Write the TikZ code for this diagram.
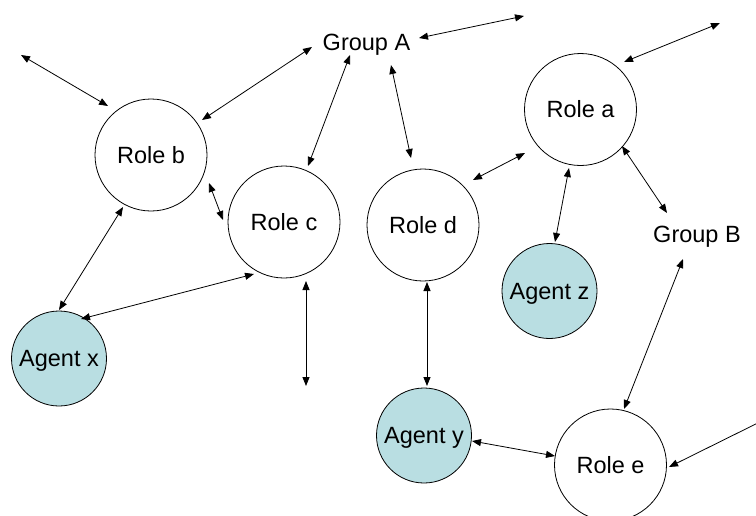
\documentclass[tikz,border=0pt]{standalone}
\usepackage{fontspec}
\setmainfont{Liberation Sans}
\usetikzlibrary{arrows.meta,calc}
\definecolor{agentfill}{RGB}{185,222,226}
\begin{document}
\begin{tikzpicture}[x=1pt,y=-1pt,
  every node/.style={font=\fontsize{23.5}{28}\selectfont},
  role/.style={circle,draw,line width=0.8pt,minimum size=112pt,inner sep=0pt,
               text height=16.8pt,text depth=0pt},
  agent/.style={role,fill=agentfill,minimum size=95pt},
  grp/.style={inner sep=0pt,anchor=base},
  link/.style={{Triangle[length=9pt,width=7pt]}-{Triangle[length=9pt,width=7pt]},
               line width=0.8pt}]
\useasboundingbox (0,0) rectangle (756,515);
\clip (0,0) rectangle (756,515);

% roles and agents
\node[role]  (rb) at (151,155)     {Role b};
\node[role]  (rc) at (284,222)     {Role c};
\node[role]  (rd) at (423,225)     {Role d};
\node[role]  (ra) at (580.5,109.5) {Role a};
\node[role]  (re) at (610.5,465)   {Role e};
\node[agent] (az) at (549.5,291)   {Agent z};
\node[agent] (ax) at (59,358.5)    {Agent x};
\node[agent] (ay) at (424,435.5)   {Agent y};

% groups
\node[grp] (ga) at (366.5,50.5) {Group A};
\node[grp] (gb) at (697,242.5)  {Group B};

% loose ends
\coordinate (f1) at (21,55);
\coordinate (f2) at (524,16);
\coordinate (f3) at (720,23);
\coordinate (f4) at (306,281);
\coordinate (f5) at (306,386);
\coordinate (f6) at (780,412);

% links
\draw[link] (f1) -- ($(rb)+(-43,-49)$);
\draw[link] ($(ga.base)+(-54.5,-3.5)$) -- ($(rb)+(51,-35)$);
\draw[link] ($(ga.base)+(-16.5,4.5)$) -- ($(rc)+(24,-56)$);
\draw[link] ($(ga.base)+(24.5,14.5)$) -- ($(rd)+(-12,-67)$);
\draw[link] ($(ga.base)+(52.5,-12.5)$) -- (f2);
\draw[link] ($(ra)+(43.5,-47.5)$) -- (f3);
\draw[link] ($(rd)+(50,-45)$) -- ($(ra)+(-55.5,43.5)$);
\draw[link] ($(ra)+(41.5,36.5)$) -- ($(gb.base)+(-30,-29.5)$);
\draw[link] ($(ra)+(-11.5,58.5)$) -- ($(az)+(5.5,-49)$);
\draw[link] ($(rb)+(58,28)$) -- ($(rc)+(-61,-2)$);
\draw[link] ($(rb)+(-28,52)$) -- ($(ax)+(0,-48.5)$);
\draw[link] ($(rc)+(-30,52)$) -- ($(ax)+(22,-39.5)$);
\draw[link] (f4) -- (f5);
\draw[link] ($(rd)+(4,57)$) -- ($(ay)+(3,-49.5)$);
\draw[link] ($(gb.base)+(-14,16.5)$) -- ($(re)+(13.5,-56)$);
\draw[link] ($(ay)+(48,5.5)$) -- ($(re)+(-55.5,-9)$);
\draw[link] ($(re)+(58.5,2)$) -- (f6);
\end{tikzpicture}
\end{document}
